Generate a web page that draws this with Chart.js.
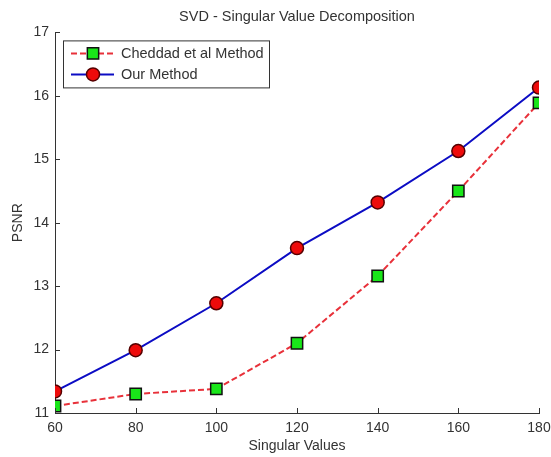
<!DOCTYPE html>
<html lang="en">
<head>
  <meta charset="UTF-8" />
  <title>SVD - Singular Value Decomposition</title>
  <script src="https://cdn.jsdelivr.net/npm/chart.js"></script>
  <style>
    html, body { margin: 0; padding: 0; background: #ffffff; }
    .wrap { position: relative; width: 551px; height: 457px; }
  </style>
</head>
<body>
  <div class="wrap"><canvas id="svdChart" width="551" height="457"></canvas></div>

  <script>
    // values
    const singularValues = [60, 80, 100, 120, 140, 160, 180];
    const cheddadPsnr = [11.11, 11.3, 11.38, 12.1, 13.16, 14.5, 15.89];
    const ourPsnr = [11.34, 11.99, 12.73, 13.6, 14.32, 15.13, 16.13];
    const xTicks = [60, 80, 100, 120, 140, 160, 180];
    const yTicks = [11, 12, 13, 14, 15, 16, 17];
    const seriesNames = ['Cheddad et al Method', 'Our Method'];

    const axisColor = '#333333';
    const textColor = '#333333';
    const fontFamily = '"Liberation Sans", Arial, sans-serif';

    function toPoints(values) {
      return singularValues.map((x, i) => ({ x: x, y: values[i] }));
    }

    // matlab style ticks pointing into the plot
    const innerTicks = {
      id: 'innerTicks',
      afterDraw(chart) {
        const { ctx, chartArea, scales } = chart;
        ctx.save();
        ctx.strokeStyle = axisColor;
        ctx.lineWidth = 1;
        ctx.beginPath();
        xTicks.forEach(v => {
          const px = Math.round(scales.x.getPixelForValue(v)) + 0.5;
          ctx.moveTo(px, chartArea.bottom);
          ctx.lineTo(px, chartArea.bottom - 5);
        });
        yTicks.forEach(v => {
          const py = Math.round(scales.y.getPixelForValue(v)) + 0.5;
          ctx.moveTo(chartArea.left, py);
          ctx.lineTo(chartArea.left + 5, py);
        });
        ctx.stroke();
        ctx.restore();
      }
    };

    // legend box inside the axes, top left
    const boxLegend = {
      id: 'boxLegend',
      afterDraw(chart) {
        const { ctx, chartArea } = chart;
        const left = chartArea.left + 8;
        const top = chartArea.top + 8;
        const w = 206, h = 47;
        ctx.save();
        ctx.fillStyle = '#ffffff';
        ctx.fillRect(left, top, w, h);
        ctx.strokeStyle = '#333333';
        ctx.lineWidth = 1;
        ctx.strokeRect(left + 0.5, top + 0.5, w, h);
        ctx.font = '14.5px ' + fontFamily;
        ctx.textBaseline = 'middle';
        chart.data.datasets.forEach((ds, i) => {
          const y = top + 13 + i * 21;
          ctx.strokeStyle = ds.borderColor;
          ctx.lineWidth = ds.borderWidth;
          ctx.setLineDash(ds.borderDash || []);
          ctx.beginPath();
          ctx.moveTo(left + 8, y);
          ctx.lineTo(left + 51, y);
          ctx.stroke();
          ctx.setLineDash([]);
          ctx.fillStyle = ds.pointBackgroundColor;
          ctx.strokeStyle = ds.pointBorderColor;
          ctx.lineWidth = ds.pointBorderWidth;
          Chart.helpers.drawPoint(ctx, {
            pointStyle: ds.pointStyle,
            radius: ds.pointRadius,
            borderWidth: ds.pointBorderWidth,
            rotation: 0
          }, left + 30, y);
          ctx.fillStyle = textColor;
          ctx.fillText(seriesNames[i], left + 58, y + 1);
        });
        ctx.restore();
      }
    };

    const ctx = document.getElementById('svdChart').getContext('2d');
    new Chart(ctx, {
      type: 'line',
      data: {
        datasets: [
          {
            label: seriesNames[0],
            data: toPoints(cheddadPsnr),
            borderColor: '#e8313a',
            borderWidth: 2,
            borderDash: [6, 3],
            pointStyle: 'rect',
            pointRadius: 8,
            pointBackgroundColor: '#19e619',
            pointBorderColor: '#111111',
            pointBorderWidth: 1.5,
            fill: false,
            tension: 0
          },
          {
            label: seriesNames[1],
            data: toPoints(ourPsnr),
            borderColor: '#0c0cc4',
            borderWidth: 2,
            pointStyle: 'circle',
            pointRadius: 6.5,
            pointBackgroundColor: '#ee0b0b',
            pointBorderColor: '#550000',
            pointBorderWidth: 1.5,
            fill: false,
            tension: 0
          }
        ]
      },
      options: {
        responsive: false,
        animation: false,
        layout: { padding: { left: 0, right: 0, top: 0, bottom: 0 } },
        plugins: {
          legend: { display: false },
          tooltip: { enabled: false },
          title: {
            display: true,
            fullSize: false,
            text: 'SVD - Singular Value Decomposition',
            color: textColor,
            font: { family: fontFamily, size: 14.5, weight: 'normal' },
            padding: { top: 8, bottom: 7 }
          }
        },
        scales: {
          x: {
            type: 'linear',
            min: 60,
            max: 180,
            afterBuildTicks: s => { s.ticks = xTicks.map(v => ({ value: v })); },
            afterFit: s => { s.height = 44; s.paddingLeft = 0; s.paddingRight = 12; },
            grid: { display: false, drawTicks: false },
            border: { display: true, color: axisColor, width: 1 },
            ticks: {
              color: textColor,
              padding: 7,
              font: { family: fontFamily, size: 14 }
            },
            title: {
              display: true,
              text: 'Singular Values',
              color: textColor,
              font: { family: fontFamily, size: 14 },
              padding: { top: 0, bottom: 2 }
            }
          },
          y: {
            type: 'linear',
            min: 11,
            max: 17,
            afterBuildTicks: s => { s.ticks = yTicks.map(v => ({ value: v })); },
            afterFit: s => { s.width = 55; },
            grid: { display: false, drawTicks: false },
            border: { display: true, color: axisColor, width: 1 },
            ticks: {
              color: textColor,
              padding: 6,
              font: { family: fontFamily, size: 14 }
            },
            title: {
              display: true,
              text: 'PSNR',
              color: textColor,
              font: { family: fontFamily, size: 14 },
              padding: { top: 10, bottom: 0 }
            }
          }
        }
      },
      plugins: [innerTicks, boxLegend]
    });
  </script>
</body>
</html>
